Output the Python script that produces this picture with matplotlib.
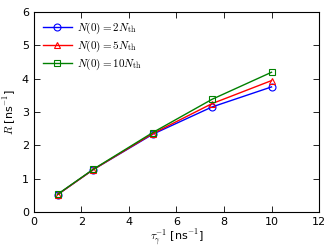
import numpy as np
from matplotlib import pyplot as plt

plt.rcParams['mathtext.fontset'] = 'cm'

tau_inv = [1, 2.5, 5, 7.5, 10]
R_2 = [0.52, 1.27, 2.33, 3.15, 3.75]
R_5 = [0.52, 1.27, 2.35, 3.25, 3.94]
R_10 = [0.53, 1.28, 2.38, 3.38, 4.19]

fig = plt.figure(figsize=(3.32, 2.49), dpi=100)
ax = fig.add_axes([0.102, 0.149, 0.859, 0.803])

ax.plot(tau_inv, R_2, '-o', color='blue', mfc='none', ms=5, lw=1, mew=0.8, label=r'$N(0)=2N_{\rm th}$')
ax.plot(tau_inv, R_5, '-^', color='red', mfc='none', ms=5, lw=1, mew=0.8, label=r'$N(0)=5N_{\rm th}$')
ax.plot(tau_inv, R_10, '-s', color='green', mfc='none', ms=5, lw=1, mew=0.8, label=r'$N(0)=10N_{\rm th}$')

ax.set_xlim(0, 12)
ax.set_ylim(0, 6)
ax.set_xticks([0, 2, 4, 6, 8, 10, 12])
ax.set_yticks([0, 1, 2, 3, 4, 5, 6])
ax.tick_params(direction='in', top=True, right=True, labelsize=8, length=4, width=0.6)
for s in ax.spines.values():
    s.set_linewidth(0.8)
ax.set_xlabel(r'$\tau_\gamma^{-1}$ [ns$^{-1}$]', fontsize=8, labelpad=0.5)
ax.set_ylabel(r'$R$ [ns$^{-1}$]', fontsize=8, labelpad=3)
ax.legend(loc='upper left', frameon=False, fontsize=8, handlelength=2.6,
          handletextpad=0.5, borderaxespad=0.4, labelspacing=0.25)

plt.savefig('out.png', dpi=100)
